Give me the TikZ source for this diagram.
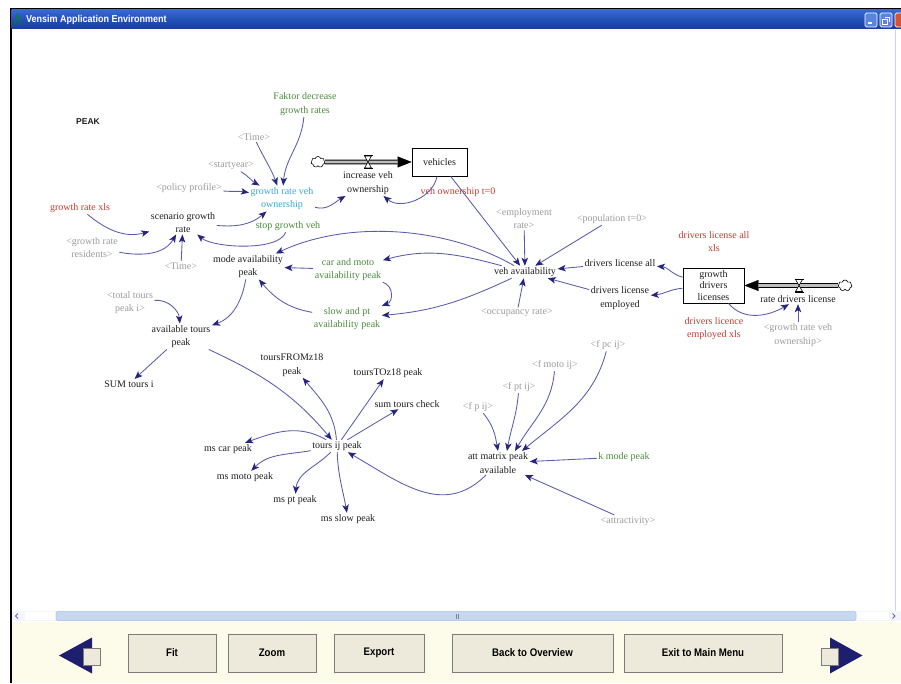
\documentclass[tikz,border=0pt]{standalone}
\usepackage{fontspec}
\setmainfont{Liberation Serif}
\newfontfamily\uisans{Liberation Sans}
\usetikzlibrary{arrows.meta,shapes.symbols}

\definecolor{linkblue}{HTML}{5A5AAE}
\definecolor{headblue}{HTML}{25257F}
\definecolor{shadowgray}{HTML}{9C9C9C}
\definecolor{lookupred}{HTML}{C43C34}
\definecolor{constgreen}{HTML}{4B8B3B}
\definecolor{rateblue}{HTML}{3CA6D6}
\definecolor{inkblack}{HTML}{1E1E1E}
\definecolor{titletop}{HTML}{3A68CC}
\definecolor{titlemid}{HTML}{2150B8}
\definecolor{titlebot}{HTML}{1A3E9E}
\definecolor{capbtn}{HTML}{5A84E0}
\definecolor{closered}{HTML}{D9532E}
\definecolor{panelcream}{HTML}{FDFBEA}
\definecolor{buttonface}{HTML}{EEEADB}
\definecolor{buttonedge}{HTML}{7C7C7C}
\definecolor{navarrow}{HTML}{1E1E6E}
\definecolor{scrollbg}{HTML}{F3F5FA}
\definecolor{thumbblue}{HTML}{C8D7F0}
\definecolor{thumbedge}{HTML}{A9BEE2}
\definecolor{pipegray}{HTML}{BDBDBD}
\definecolor{edgeline}{HTML}{CCD6E8}

\tikzset{
  flowvalve/.pic={
    \draw[fill=white, line width=0.6pt] (-3.5,6) -- (3.5,6) -- (0,0) -- cycle;
    \draw[fill=white, line width=0.6pt] (-3.5,-6) -- (3.5,-6) -- (0,0) -- cycle;
    \draw[line width=0.9pt] (-4.5,6.5) -- (4.5,6.5) (-4.5,-6.5) -- (4.5,-6.5);
  }
}

\begin{document}
\begin{tikzpicture}[x=1pt,y=1pt,
  lbl/.style={font=\fontsize{10}{13.5}\selectfont, align=center, inner sep=1.5pt, text=inkblack},
  shadowvar/.style={lbl, text=shadowgray},
  lookupvar/.style={lbl, text=lookupred},
  constvar/.style={lbl, text=constgreen},
  ratevar/.style={lbl, text=rateblue},
  stockbox/.style={lbl, draw=black, fill=white, line width=0.8pt, inner sep=0pt},
  sourcecloud/.style={cloud, draw=black, fill=white, line width=0.6pt, cloud puffs=7, aspect=1.4, minimum width=14pt, minimum height=11pt, inner sep=0pt},
  link/.style={draw=linkblue, line width=0.85pt, -{Stealth[length=8pt,width=6.5pt,inset=2pt,color=headblue]}},
  pipeouter/.style={draw=black, line width=4.6pt, -{Triangle[length=14pt,width=11pt,line width=0.3pt]}},
  pipeinner/.style={draw=pipegray, line width=2.6pt, shorten >=14pt},
  uibutton/.style={draw=buttonedge, fill=buttonface, line width=0.8pt, inner sep=0pt, minimum height=38pt, font=\uisans\bfseries\fontsize{11}{11}\selectfont},
  navtip/.style={fill=navarrow},
  navsquare/.style={draw=buttonedge, fill=buttonface, line width=1pt}
]
\useasboundingbox (0,0) rectangle (901,683);
\clip (0,0) rectangle (901,683);
\fill[white] (0,0) rectangle (901,683);

% ---------- window frame and title bar ----------
\fill[black] (9.5,0) rectangle (11.5,674.5);
\fill[black] (9.5,673) rectangle (901,674.5);
\shade[top color=titletop, bottom color=titlebot, middle color=titlemid] (11.5,654) rectangle (901,673);
\draw[green!55!black, line width=0.9pt] (14.5,658.5) -- (17.5,668.5) -- (20.5,658.5);
\node[anchor=west, text=white, inner sep=0pt, font=\uisans\bfseries\fontsize{10}{10}\selectfont] (wintitle) at (26,663.5) {\scalebox{0.9}[1]{Vensim Application Environment}};
\draw[white, line width=0.7pt, fill=capbtn, rounded corners=1.5pt] (865,656) rectangle (877,670);
\fill[white] (867.5,658.5) rectangle (872,660.5);
\draw[white, line width=0.7pt, fill=capbtn, rounded corners=1.5pt] (880,656) rectangle (892,670);
\draw[white, line width=0.7pt] (882.5,658.5) rectangle (887.5,663.5) (884.5,665.5) -- (889.5,665.5) -- (889.5,660.5);
\draw[white, line width=0.7pt, fill=closered, rounded corners=1.5pt] (895,656) rectangle (907,670);

% ---------- drawing area edge and horizontal scroll bar ----------
\draw[edgeline, line width=0.8pt] (895,72) -- (895,653);
\fill[scrollbg] (11.5,62) rectangle (901,72);
\fill[white] (25,63) rectangle (55,71);
\fill[white] (856,63) rectangle (889,71);
\draw[thumbedge, fill=thumbblue, rounded corners=2pt, line width=0.5pt] (56,62.5) rectangle (856,71.5);
\draw[thumbedge!70!black, line width=0.5pt] (456,64.5) -- (456,69.5) (458,64.5) -- (458,69.5);
\draw[headblue!70, line width=1pt] (18,69.5) -- (15.5,67) -- (18,64.5);
\draw[headblue!70, line width=1pt] (892.5,69.5) -- (895,67) -- (892.5,64.5);

% ---------- button panel ----------
\fill[panelcream] (11.5,0) rectangle (901,61.5);
\node[uibutton, minimum width=88pt] (btnfit) at (172,30) {\scalebox{0.88}[1]{Fit}};
\node[uibutton, minimum width=88pt] (btnzoom) at (272,30) {\scalebox{0.88}[1]{Zoom}};
\node[uibutton, minimum width=90pt] (btnexport) at (379,30) {\scalebox{0.88}[1]{Export}};
\node[uibutton, minimum width=161pt] (btnback) at (532.5,30) {\scalebox{0.88}[1]{Back to Overview}};
\node[uibutton, minimum width=158pt] (btnexit) at (703,30) {\scalebox{0.88}[1]{Exit to Main Menu}};
\fill[navtip] (59,27.5) -- (92,45.5) -- (92,9.5) -- cycle;
\draw[navsquare] (83,18) rectangle (100,35);
\fill[navtip] (830,45.5) -- (830,9.5) -- (862.5,27.5) -- cycle;
\draw[navsquare] (821,18) rectangle (838,35);

% ---------- model variables ----------
\node[lbl, font=\uisans\bfseries\fontsize{8.5}{10}\selectfont] (peak) at (88,561) {PEAK};
\node[constvar] (faktor) at (305,579) {Faktor decrease\\growth rates};
\node[shadowvar] (time1) at (254,546) {<Time>};
\node[shadowvar] (startyear) at (231,517) {<startyear>};
\node[shadowvar] (policy) at (189,495) {<policy profile>};
\node[ratevar] (grv) at (282,484.5) {growth rate veh\\ownership};
\node[lookupvar] (grxls) at (80,475) {growth rate xls};
\node[lbl] (scen) at (183,460.5) {scenario growth\\rate};
\node[constvar] (stopv) at (288,457) {stop growth veh};
\node[shadowvar] (grres) at (92,435.5) {<growth rate\\residents>};
\node[shadowvar] (time2) at (181,417) {<Time>};
\node[sourcecloud] (cloud1) at (318,521) {};
\node[stockbox, minimum width=55pt, minimum height=28pt] (vehicles) at (439.5,521) {vehicles};
\node[lbl] (incveh) at (368,500) {increase veh\\ownership};
\node[lookupvar] (vo0) at (458,491) {veh ownership t=0};
\node[shadowvar] (emp) at (524,464.5) {<employment\\rate>};
\node[shadowvar] (pop) at (612,464) {<population t=0>};
\node[lookupvar] (dlaxls) at (714,441.5) {drivers license all\\xls};
\node[lbl] (map) at (248,416.5) {mode availability\\peak};
\node[constvar] (cmap) at (348,413.5) {car and moto\\availability peak};
\node[lbl] (vav) at (525,411) {veh availability};
\node[lbl] (dla) at (620,420) {drivers license all};
\node[lbl] (dle) at (620,385) {drivers license\\employed};
\node[stockbox, font=\fontsize{10}{11.5}\selectfont, minimum width=61pt, minimum height=35pt] (gdl) at (713.5,397.5) {growth\\drivers\\licenses};
\node[sourcecloud] (cloud2) at (845,397.5) {};
\node[lbl] (rdl) at (798,384) {rate drivers license};
\node[lookupvar] (dlexls) at (714,354.5) {drivers licence\\employed xls};
\node[shadowvar] (grvo2) at (798,348) {<growth rate veh\\ownership>};
\node[shadowvar] (ttp) at (130,380.5) {<total tours\\peak i>};
\node[constvar] (spap) at (347,364.5) {slow and pt\\availability peak};
\node[shadowvar] (occ) at (517,370) {<occupancy rate>};
\node[lbl] (atp) at (181,346.5) {available tours\\peak};
\node[shadowvar] (fpc) at (608,338) {<f pc ij>};
\node[lbl] (tfrom) at (292,318) {toursFROMz18\\peak};
\node[lbl] (tto) at (388,310) {toursTOz18 peak};
\node[shadowvar] (fmoto) at (555,318) {<f moto ij>};
\node[lbl] (sumi) at (129,299) {SUM tours i};
\node[shadowvar] (fpt) at (519,296) {<f pt ij>};
\node[lbl] (stc) at (407,279) {sum tours check};
\node[shadowvar] (fp) at (478,276) {<f p ij>};
\node[lbl] (tij) at (337,237) {tours ij peak};
\node[lbl] (mscar) at (228,234) {ms car peak};
\node[lbl] (msmoto) at (245,206) {ms moto peak};
\node[lbl] (mspt) at (295,183) {ms pt peak};
\node[lbl] (msslow) at (348,164) {ms slow peak};
\node[lbl] (att) at (498,220) {att matrix peak\\available};
\node[constvar] (kmode) at (624,226) {k mode peak};
\node[shadowvar] (attr) at (628,162) {<attractivity>};

% ---------- material flows ----------
\draw[pipeouter] (cloud1) -- (vehicles);
\draw[pipeinner] (cloud1) -- (vehicles);
\pic at (368,521) {flowvalve};
\draw[pipeouter] (cloud2) -- (gdl);
\draw[pipeinner] (cloud2) -- (gdl);
\pic at (799,397.5) {flowvalve};

% ---------- information links ----------
\draw[link] (faktor) to[out=-95,in=85] (grv);
\draw[link] (time1) to[out=-65,in=110] (grv);
\draw[link] (startyear) to[out=-30,in=150] (grv);
\draw[link] (policy) to[out=-5,in=170] (grv);
\draw[link] (grv) to[out=-15,in=-150] (incveh);
\draw[link] (vehicles) to[out=-100,in=-40] (incveh);
\draw[link] (vehicles) -- (vav);
\draw[link] (emp) -- (vav);
\draw[link] (pop) -- (vav);
\draw[link] (dla) -- (vav);
\draw[link] (dle) -- (vav);
\draw[link] (occ) -- (vav);
\draw[link] (gdl) to[out=165,in=-5] (dla);
\draw[link] (gdl) to[out=185,in=5] (dle);
\draw[link] (gdl) to[out=-50,in=-150] (rdl);
\draw[link] (grvo2) -- (rdl);
\draw[link] (vav) to[out=150,in=25,looseness=0.85] (map);
\draw[link] (vav) to[out=165,in=15] (cmap);
\draw[link] (cmap) -- (map);
\draw[link] (cmap) to[out=-20,in=20,looseness=1.3] (spap);
\draw[link] (vav) to[out=-155,in=5] (spap);
\draw[link] (spap) to[out=170,in=-50] (map);
\draw[link] (map) to[out=-100,in=20] (atp);
\draw[link] (stopv) to[out=-110,in=-40,looseness=0.6] (scen);
\draw[link] (scen) to[out=-5,in=-140] (grv);
\draw[link] (grxls) to[out=-40,in=195] (scen);
\draw[link] (grres) to[out=-10,in=-120] (scen);
\draw[link] (time2) -- (scen);
\draw[link] (ttp) to[out=5,in=95] (atp);
\draw[link] (atp) -- (sumi);
\draw[link] (atp) to[out=-25,in=130] (tij);
\draw[link] (tij) to[out=95,in=-50] (tfrom);
\draw[link] (tij) -- (tto);
\draw[link] (tij) -- (stc);
\draw[link] (tij) to[out=150,in=20] (mscar);
\draw[link] (tij) to[out=190,in=45] (msmoto);
\draw[link] (tij) to[out=-135,in=85] (mspt);
\draw[link] (tij) to[out=-88,in=100] (msslow);
\draw[link] (att) to[out=-135,in=-30,looseness=1.1] (tij);
\draw[link] (fp) to[out=-50,in=100] (att.north);
\draw[link] (fpt) to[out=-95,in=80] ([xshift=9pt]att.north);
\draw[link] (fmoto) to[out=-95,in=60] ([xshift=17pt]att.north);
\draw[link] (fpc) to[out=-105,in=40] ([xshift=24pt]att.north);
\draw[link] (kmode) -- (att);
\draw[link] (attr) -- (att);
\end{tikzpicture}
\end{document}
